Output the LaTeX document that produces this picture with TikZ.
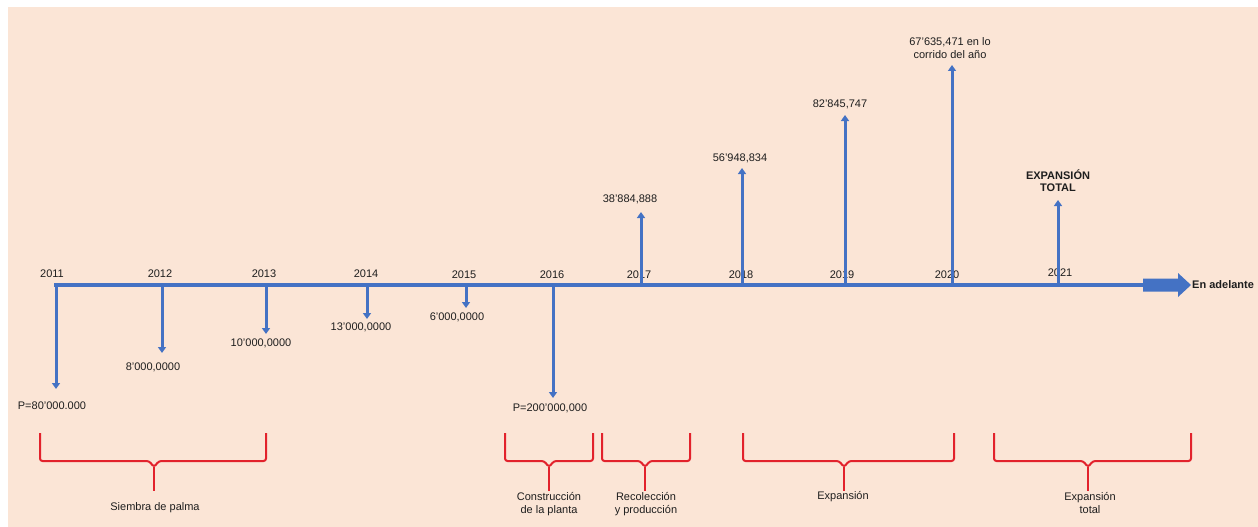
\documentclass[tikz,border=0pt]{standalone}
\usepackage{fontspec}
\setmainfont{Liberation Sans}
\usetikzlibrary{arrows.meta}
\definecolor{peach}{RGB}{251,229,214}
\definecolor{axisblue}{RGB}{68,114,196}
\definecolor{bracered}{RGB}{226,34,44}
\definecolor{ink}{RGB}{30,30,30}
\begin{document}
\begin{tikzpicture}[x=1pt,y=-1pt,
  lbl/.style={font=\fontsize{11}{12.5}\selectfont, text=ink, inner sep=0pt, align=center},
  boldlbl/.style={lbl, font=\fontsize{11}{12}\selectfont\bfseries},
  axisline/.style={draw=axisblue, line width=3.2pt},
  tick/.style={draw=axisblue, line width=3pt, -{Triangle[width=8pt,length=6pt]}},
  brace/.style={draw=bracered, line width=2pt, line join=round, rounded corners=2.5pt}
]
% page and background panel
\useasboundingbox (0,0) rectangle (1258,527);
\fill[white] (0,0) rectangle (1258,527);
\fill[peach] (8,7) rectangle (1258,527);

% points on the time axis
\coordinate (a11) at (56,285);
\coordinate (a12) at (162,285);
\coordinate (a13) at (266,285);
\coordinate (a14) at (367,285);
\coordinate (a15) at (466,285);
\coordinate (a16) at (553,285);
\coordinate (a17) at (641,285);
\coordinate (a18) at (742,285);
\coordinate (a19) at (845,285);
\coordinate (a20) at (952,285);
\coordinate (a21) at (1058,285);
\coordinate (axend) at (1145,285);

% time axis
\draw[axisline] (54.4,285) -- (axend);
\fill[axisblue] (1143,278.5) -- (1178,278.5) -- (1178,273) -- (1191,285)
  -- (1178,297) -- (1178,291.5) -- (1143,291.5) -- cycle;
\node[boldlbl, anchor=west] (later) at (1192,285) {En adelante};

% year labels
\node[lbl] (y11) at (52,274) {2011};
\node[lbl] (y12) at (160,274) {2012};
\node[lbl] (y13) at (264,274) {2013};
\node[lbl] (y14) at (366,274) {2014};
\node[lbl] (y15) at (464,275) {2015};
\node[lbl] (y16) at (552,275) {2016};
\node[lbl] (y17) at (639,275) {2017};
\node[lbl] (y18) at (741,275) {2018};
\node[lbl] (y19) at (842,275) {2019};
\node[lbl] (y20) at (947,275) {2020};
\node[lbl] (y21) at (1060,273) {2021};

% arrow ends
\coordinate (e11) at (56,389);
\coordinate (e12) at (162,353);
\coordinate (e13) at (266,334);
\coordinate (e14) at (367,319);
\coordinate (e15) at (466,308);
\coordinate (e16) at (553,398);
\coordinate (e17) at (641,212);
\coordinate (e18) at (742,168);
\coordinate (e19) at (845,115);
\coordinate (e20) at (952,65);
\coordinate (e21) at (1058,200);

% yearly amounts
\node[lbl] (v11) at (52,406) {P=80'000.000};
\node[lbl] (v12) at (153,367) {8'000,0000};
\node[lbl] (v13) at (261,343) {10'000,0000};
\node[lbl] (v14) at (361,327) {13'000,0000};
\node[lbl] (v15) at (457,317) {6'000,0000};
\node[lbl] (v16) at (550,408) {P=200'000,000};
\node[lbl] (v17) at (630,199) {38'884,888};
\node[lbl] (v18) at (740,158) {56'948,834};
\node[lbl] (v19) at (840,104) {82'845,747};
\node[lbl] (v20) at (950,48) {67'635,471 en lo\\corrido del año};
\node[boldlbl] (v21) at (1058,181) {EXPANSIÓN\\TOTAL};

\draw[tick] (a11) -- (e11);
\draw[tick] (a12) -- (e12);
\draw[tick] (a13) -- (e13);
\draw[tick] (a14) -- (e14);
\draw[tick] (a15) -- (e15);
\draw[tick] (a16) -- (e16);
\draw[tick] (a17) -- (e17);
\draw[tick] (a18) -- (e18);
\draw[tick] (a19) -- (e19);
\draw[tick] (a20) -- (e20);
\draw[tick] (a21) -- (e21);

% phase braces
\draw[brace] (40,433) -- (40,461) -- (149,461) -- (154,467) -- (159,461) -- (266,461) -- (266,433);
\draw[brace] (154,467) -- (154,491);
\node[lbl] (p1) at (155,508) {Siembra de palma};

\draw[brace] (505,433) -- (505,461) -- (544,461) -- (549,467) -- (554,461) -- (593,461) -- (593,433);
\draw[brace] (549,467) -- (549,491);
\node[lbl] (p2) at (549,504) {Construcción\\de la planta};

\draw[brace] (602,433) -- (602,461) -- (640,461) -- (645,467) -- (650,461) -- (690,461) -- (690,433);
\draw[brace] (645,467) -- (645,491);
\node[lbl] (p3) at (646,504) {Recolección\\y producción};

\draw[brace] (743,433) -- (743,461) -- (839,461) -- (844,467) -- (849,461) -- (954,461) -- (954,433);
\draw[brace] (844,467) -- (844,491);
\node[lbl] (p4) at (843,497) {Expansión};

\draw[brace] (994,433) -- (994,461) -- (1083,461) -- (1088,467) -- (1093,461) -- (1191,461) -- (1191,433);
\draw[brace] (1088,467) -- (1088,491);
\node[lbl] (p5) at (1090,503) {Expansión\\total};
\end{tikzpicture}
\end{document}
